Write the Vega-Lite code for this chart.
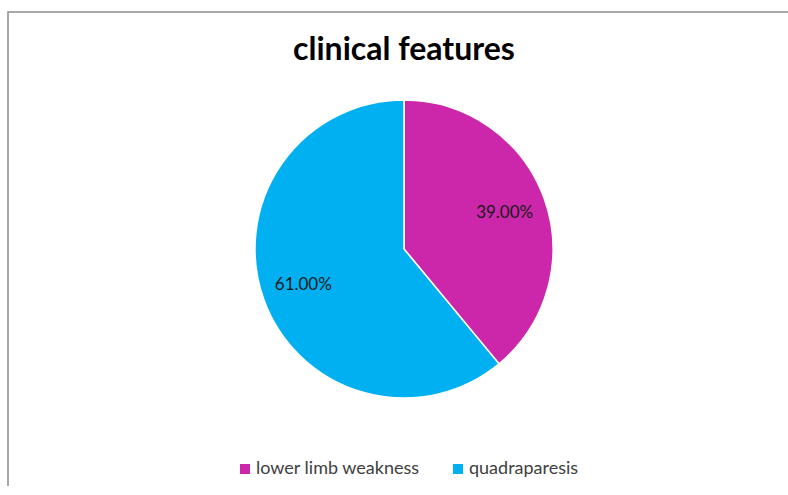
{
  "$schema": "https://vega.github.io/schema/vega-lite/v6.json",
  "width": 792,
  "height": 474,
  "autosize": "none",
  "padding": {"left": 8, "top": 12, "right": 0, "bottom": 0},
  "background": "white",
  "view": {"stroke": "#8c8c8c", "strokeWidth": 1.5, "strokeDash": [792, 1266, 474], "fill": "white"},
  "config": {
    "font": "Lato"
  },
  "title": {
    "text": "clinical features",
    "font": "Lato",
    "fontSize": 32,
    "fontWeight": "bold",
    "color": "#000000",
    "anchor": "middle",
    "offset": -55
  },
  "data": {
    "values": [
      {"feature": "lower limb weakness", "pct": 39, "label": "39.00%", "ord": 1},
      {"feature": "quadraparesis", "pct": 61, "label": "61.00%", "ord": 2}
    ]
  },
  "encoding": {
    "theta": {"field": "pct", "type": "quantitative", "stack": true},
    "order": {"field": "ord", "type": "quantitative"}
  },
  "layer": [
    {
      "mark": {"type": "arc", "outerRadius": 149, "stroke": "white", "strokeWidth": 1.5},
      "encoding": {
        "color": {
          "field": "feature",
          "type": "nominal",
          "scale": {"domain": ["lower limb weakness", "quadraparesis"], "range": ["#CC27AA", "#00B0F0"]},
          "legend": {
            "title": null,
            "orient": "none",
            "direction": "horizontal",
            "legendX": 228,
            "legendY": 448,
            "symbolType": "square",
            "symbolSize": 100,
            "symbolStrokeWidth": 0,
            "labelFont": "Lato",
            "labelFontSize": 18,
            "labelLimit": 300,
            "labelColor": "#404040",
            "labelOffset": 2,
            "columnPadding": 29
          }
        }
      }
    },
    {
      "mark": {"type": "text", "radius": 107, "font": "Lato", "fontSize": 17, "color": "#1a1a1a"},
      "encoding": {"text": {"field": "label"}}
    }
  ]
}
